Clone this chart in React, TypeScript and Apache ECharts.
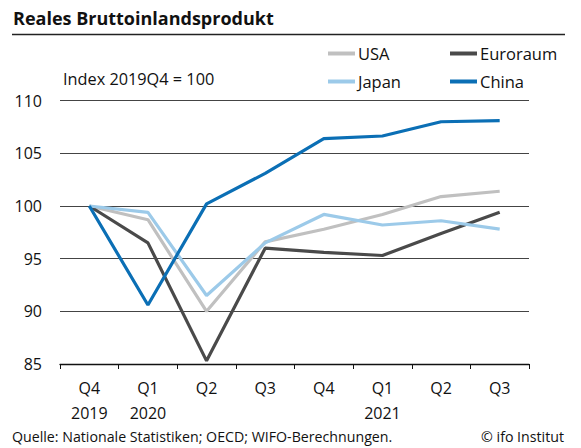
import React, { useEffect, useRef } from "react";
import * as echarts from "echarts";

const categories = ["Q4\n2019", "Q1\n2020", "Q2", "Q3", "Q4", "Q1\n2021", "Q2", "Q3"];
const usa = [100, 98.7, 90.0, 96.6, 97.8, 99.2, 100.9, 101.4];
const euroraum = [100, 96.5, 85.3, 96.0, 95.6, 95.3, 97.4, 99.4];
const japan = [100, 99.4, 91.5, 96.5, 99.2, 98.2, 98.6, 97.8];
const china = [100, 90.6, 100.2, 103.1, 106.4, 106.65, 108.0, 108.1];

const FONT = "'Open Sans', 'Noto Sans', sans-serif";

export default function App() {
  const ref = useRef<HTMLDivElement>(null);
  useEffect(() => {
    document.body.style.margin = "0";
    const chart = echarts.init(ref.current!, null, { renderer: "svg" });
    const mk = (name: string, data: number[], color: string) => ({
      name,
      type: "line",
      data,
      symbol: "none",
      lineStyle: { color, width: 3.2 },
      itemStyle: { color },
      z: 3,
    });
    const legendText = { fontFamily: FONT, fontSize: 16.5, color: "#111", lineHeight: 19, padding: [0, 0, 0, -2] };
    const legendBase = {
      orient: "vertical",
      top: 39,
      icon: "rect",
      itemWidth: 27,
      itemHeight: 4,
      itemGap: 9,
      textStyle: legendText,
    };
    chart.setOption({
      animation: false,
      textStyle: { fontFamily: FONT },
      title: {
        text: "Reales Bruttoinlandsprodukt",
        left: 8,
        top: 4,
        textStyle: { fontFamily: FONT, fontSize: 18, fontWeight: "bold", color: "#111" },
      },
      graphic: [
        { type: "line", shape: { x1: 12, y1: 34.5, x2: 565, y2: 34.5 }, style: { stroke: "#222", lineWidth: 1.3 } },
        { type: "text", left: 63, top: 71, style: { text: "Index 2019Q4 = 100", font: `16.3px ${FONT}`, fill: "#111" } },
        { type: "text", left: 12, top: 429, style: { text: "Quelle: Nationale Statistiken; OECD; WIFO-Berechnungen.", font: `14.2px ${FONT}`, fill: "#111" } },
        { type: "text", right: 17, top: 429, style: { text: "© ifo Institut", font: `14.2px ${FONT}`, fill: "#111" } },
      ],
      legend: [
        { ...legendBase, data: ["USA", "Japan"], left: 323 },
        { ...legendBase, data: ["Euroraum", "China"], left: 445 },
      ],
      grid: { left: 60, right: 52, top: 100.7, bottom: 84, containLabel: false },
      xAxis: {
        type: "category",
        data: categories,
        boundaryGap: true,
        axisLine: { lineStyle: { color: "#111", width: 1.3 } },
        axisTick: { show: true, length: 5, lineStyle: { color: "#111" }, alignWithLabel: false },
        axisLabel: { color: "#111", fontSize: 16, fontFamily: FONT, lineHeight: 25, margin: 11 },
      },
      yAxis: {
        type: "value",
        min: 85,
        max: 110,
        interval: 5,
        axisLine: { show: false },
        axisTick: { show: false },
        axisLabel: { color: "#111", fontSize: 16, fontFamily: FONT, margin: 18 },
        splitLine: { lineStyle: { color: "#444", width: 1 } },
      },
      series: [
        mk("USA", usa, "#c0c0c0"),
        mk("Euroraum", euroraum, "#4a4a4a"),
        mk("Japan", japan, "#9ccae9"),
        mk("China", china, "#0b6fb5"),
      ],
    });
    return () => chart.dispose();
  }, []);
  return <div ref={ref} style={{ width: 581, height: 448 }} />;
}
